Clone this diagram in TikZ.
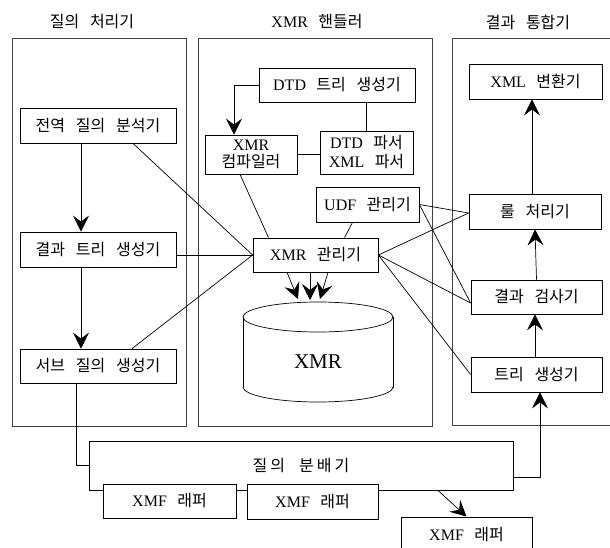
\documentclass[tikz,border=0pt]{standalone}
\usepackage{fontspec}
\setmainfont{Liberation Serif}
\newfontfamily\krfont{Noto Sans CJK KR}[WordSpace=3]
\newcommand{\kor}[1]{{\krfont #1}}
\newcommand{\kgap}{\hspace{0.65em}}
\usetikzlibrary{arrows.meta,calc}
\begin{document}
\begin{tikzpicture}[x=1pt,y=-1pt,
  font=\fontsize{16}{18}\selectfont,
  cont/.style={draw=black!75, line width=0.9pt},
  box/.style={draw, line width=0.8pt, fill=white, inner sep=0pt, align=center},
  link/.style={line width=0.7pt},
  arr/.style={line width=0.7pt, -{Stealth[length=16pt,width=16pt,inset=6pt]}},
  title/.style={inner sep=0pt}]
\clip (0,0) rectangle (610,548);
\fill[white] (0,0) rectangle (610,548);
% containers
\draw[cont] (12,38) rectangle (186,426);
\draw[cont] (198,38) rectangle (432,426);
\draw[cont] (452,38) rectangle (640,425);
\node[title] (t1) at (92,22) {\kor{질의 처리기}};
\node[title] (t2) at (317,22) {XMR\kgap\kor{핸들러}};
\node[title] (t3) at (528,22) {\kor{결과 통합기}};
% left nodes
\node[box, minimum width=156, minimum height=35] (glob) at (98,125.5) {\kor{전역 질의 분석기}};
\node[box, minimum width=156, minimum height=35] (res) at (98,249.5) {\kor{결과 트리 생성기}};
\node[box, minimum width=156, minimum height=34] (sub) at (98,366) {\kor{서브 질의 생성기}};
% middle nodes
\node[box, minimum width=156, minimum height=34] (dtdgen) at (337,85) {DTD\kgap\kor{트리 생성기}};
\node[box, minimum width=92, minimum height=39, font=\fontsize{16}{17}\selectfont] (comp) at (251,154.5) {XMR\\\kor{컴파일러}};
\node[box, minimum width=93, minimum height=43, font=\fontsize{16}{19}\selectfont] (parser) at (366.5,152.5) {DTD\kgap\kor{파서}\\XML\kgap\kor{파서}};
\node[box, minimum width=103, minimum height=35] (udf) at (367.5,204.5) {UDF\kgap\kor{관리기}};
\node[box, minimum width=125, minimum height=34] (mgr) at (315.5,255) {XMR\kgap\kor{관리기}};
% cylinder
\draw[line width=0.7pt, fill=white] (243,317) -- (243,387) -- (393,387) -- (393,317);
\draw[line width=0.7pt, draw=white, fill=white] (244,380) rectangle (392,388);
\begin{scope}
  \clip (238,387) rectangle (398,406);
  \draw[line width=0.7pt, fill=white] (318,387) ellipse [x radius=75, y radius=15];
\end{scope}
\draw[line width=0.7pt] (243,317) -- (243,387);
\draw[line width=0.7pt] (393,317) -- (393,387);
\draw[line width=0.7pt, fill=white] (318,317) ellipse [x radius=75, y radius=15];
\node[inner sep=0pt, font=\fontsize{21}{24}\selectfont] (db) at (318,362) {XMR};
% right nodes
\node[box, minimum width=133, minimum height=35] (xmlc) at (535.5,81.5) {XML\kgap\kor{변환기}};
\node[box, minimum width=132, minimum height=35] (rule) at (535,211.5) {\kor{룰 처리기}};
\node[box, minimum width=131, minimum height=34] (check) at (536.5,297) {\kor{결과 검사기}};
\node[box, minimum width=131, minimum height=35] (tree) at (536.5,374.5) {\kor{트리 생성기}};
% distributor and wrappers
\node[draw, line width=0.8pt, minimum width=424, minimum height=49, inner sep=0pt] (dist) at (301,465.5) {};
\node[inner sep=0pt] (distl) at (301,466) {\kor{질\hspace{3pt}의\hspace{14pt}분\hspace{3pt}배\hspace{3pt}기}};
\node[box, minimum width=133, minimum height=34] (w1) at (169.5,501) {XMF\kgap\kor{래퍼}};
\node[box, minimum width=131, minimum height=35] (w2) at (312.5,501.5) {XMF\kgap\kor{래퍼}};
\node[box, minimum width=131, minimum height=35] (w3) at (466.5,534.5) {XMF\kgap\kor{래퍼}};
% left arrows
\draw[arr] ($(glob.south)+(-17,0)$) -- ($(res.north)+(-17,0)$);
\draw[arr] ($(res.south)+(-17,0)$) -- ($(sub.north)+(-17,0)$);
\draw[link] ($(sub.south)+(-22,0)$) |- (dist.west);
% left to manager
\draw[link] ($(glob.south)+(35,0)$) -- (mgr.west);
\draw[link] (res.east |- mgr.west) -- (mgr.west);
\draw[link] ($(sub.north)+(34,0)$) -- (mgr.west);
% middle links
\draw[arr] (dtdgen.west) -| ($(comp.north)+(-17,0)$);
\draw[link] (parser.north |- dtdgen.south) -- (parser.north);
\draw[link] (comp.east) -- (comp.east -| parser.west);
\draw[link] ($(comp.south)+(-11,0)$) -- ($(mgr.north)+(-47,0)$);
\draw[link] ($(udf.south)+(-15,0)$) -- ($(mgr.north)+(29,0)$);
\coordinate (e1) at (298,299);
\coordinate (e2) at (310,300);
\coordinate (e3) at (320,299);
\draw[arr] ($(mgr.south)+(-28.5,0)$) -- (e1);
\draw[arr] ($(mgr.south)+(-5.5,0)$) -- (e2);
\draw[arr] ($(mgr.south)+(12.5,0)$) -- (e3);
% right links
\draw[link] (mgr.east) -- ($(rule.west)+(0,1.5)$);
\draw[link] (mgr.east) -- ($(check.west)+(0,6)$);
\draw[link] (mgr.east) -- (tree.west);
\draw[link] (udf.east) -- ($(rule.west)+(0,1.5)$);
\draw[link] (udf.east) -- ($(check.west)+(0,6)$);
% right arrows
\draw[arr] ($(rule.north)+(-3,0)$) -- ($(xmlc.south)+(-3.5,0)$);
\draw[arr] (check.north) -- (rule.south);
\draw[arr] ($(tree.north)+(-1.5,0)$) -- ($(check.south)+(-1.5,0)$);
\draw[arr] ($(dist.east)+(0,11.5)$) -| ($(tree.south)+(3.5,0)$);
\draw[arr] ($(dist.south)+(137,0)$) -- (w3.north);
\end{tikzpicture}
\end{document}
